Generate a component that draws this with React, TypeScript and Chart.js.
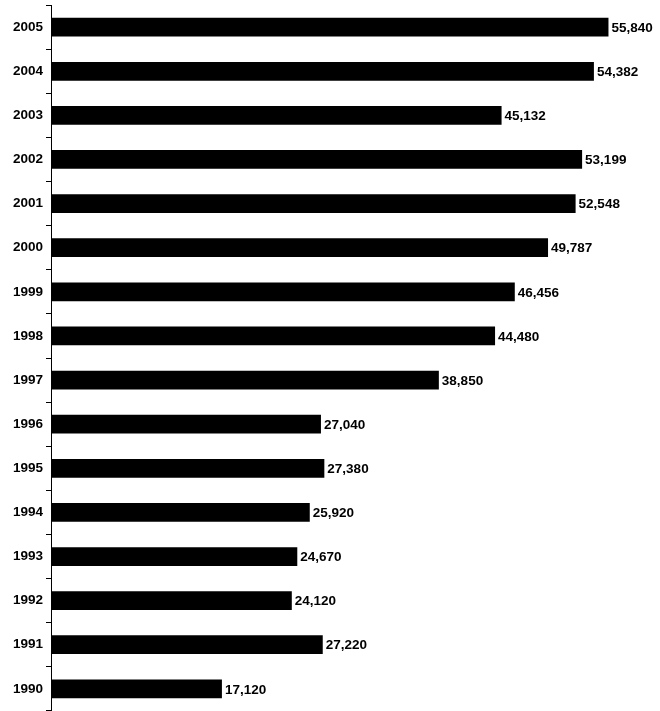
import React, { useEffect, useRef } from "react";
import { Chart, registerables } from "chart.js";

Chart.register(...registerables);

const years = ["2005", "2004", "2003", "2002", "2001", "2000", "1999", "1998", "1997", "1996", "1995", "1994", "1993", "1992", "1991", "1990"];
const values = [55840, 54382, 45132, 53199, 52548, 49787, 46456, 44480, 38850, 27040, 27380, 25920, 24670, 24120, 27220, 17120];

const FONT = "'Liberation Sans', Arial, Helvetica, sans-serif";

const valueLabels = {
  id: "valueLabels",
  afterDatasetsDraw(chart: any) {
    const ctx = chart.ctx;
    const meta = chart.getDatasetMeta(0);
    ctx.save();
    ctx.font = `bold 13.5px ${FONT}`;
    ctx.fillStyle = "#000";
    ctx.textAlign = "left";
    ctx.textBaseline = "middle";
    meta.data.forEach((bar: any, i: number) => {
      const v = values[i];
      ctx.fillText(v.toLocaleString("en-US"), bar.x + 3, bar.y + 1);
    });
    ctx.restore();
  },
};

export default function App() {
  const ref = useRef<HTMLCanvasElement>(null);
  useEffect(() => {
    if (!ref.current) return;
    const chart = new Chart(ref.current, {
      type: "bar",
      data: {
        labels: years,
        datasets: [
          {
            data: values,
            backgroundColor: "#000",
            borderWidth: 0,
            categoryPercentage: 1,
            barPercentage: 0.425,
          },
        ],
      },
      options: {
        indexAxis: "y",
        animation: false,
        responsive: false,
        maintainAspectRatio: false,
        layout: { padding: { top: 0, right: 10, bottom: 0, left: 0 } },
        plugins: { legend: { display: false }, tooltip: { enabled: false } },
        scales: {
          x: {
            display: false,
            min: 0,
            max: 60000,
          },
          y: {
            afterFit(scale: any) {
              scale.width = 51;
            },
            border: { display: true, color: "#000", width: 1 },
            grid: {
              display: true,
              offset: true,
              drawOnChartArea: false,
              drawTicks: true,
              tickLength: 5,
              color: "#000",
            },
            ticks: {
              color: "#000",
              padding: 3,
              font: { family: FONT, size: 13.5, weight: "bold" },
            },
          },
        },
      },
      plugins: [valueLabels],
    });
    return () => chart.destroy();
  }, []);
  return (
    <div style={{ position: "absolute", left: 0, top: 0, width: 660, height: 711, overflow: "hidden", background: "#fff" }}>
      <canvas ref={ref} width={660} height={728} style={{ width: 660, height: 728, display: "block", position: "absolute", left: 0, top: -6 }} />
    </div>
  );
}
